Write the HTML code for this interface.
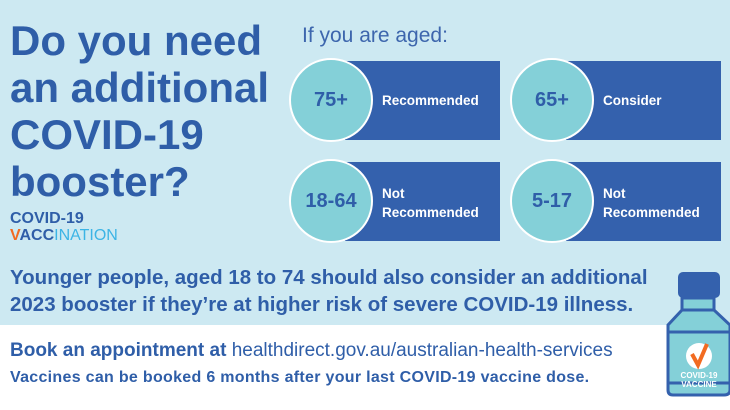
<!DOCTYPE html>
<html><head><style>
body{margin:0;width:730px;height:410px;overflow:hidden;font-family:"Liberation Sans",sans-serif;background:#fff;position:relative}
.top{position:absolute;left:0;top:0;width:730px;height:325px;background:#cde9f2}
.t{position:absolute;color:#2f5ea8;font-weight:bold;white-space:nowrap}
.box{position:absolute;background:#3461ad;width:155px;height:79px}
.c{position:absolute;width:80px;height:80px;border-radius:50%;background:#84d0d8;border:2px solid #fff;color:#2f5ea8;font-weight:bold;font-size:20px;display:flex;align-items:center;justify-content:center}
.bt{position:absolute;color:#fff;font-weight:bold;font-size:13.5px;line-height:19px}
</style></head><body>
<div class="top"></div>
<div class="t" style="left:10px;top:17px;font-size:42px;line-height:47px">Do you need<br>an additional<br>COVID-19<br>booster?</div>
<div class="t" style="left:10px;top:210px;font-size:16px;line-height:17px;color:#2f5ea8">COVID-19<br><span style="color:#f26b21">V</span>ACC<span style="color:#3cb4e5;font-weight:normal">INATION</span></div>
<div style="position:absolute;left:302px;top:24px;font-size:21px;color:#3d66ad">If you are aged:</div>

<div class="box" style="left:345px;top:61px"></div><div class="c" style="left:289px;top:58px">75+</div>
<div class="bt" style="left:382px;top:91px">Recommended</div>
<div class="box" style="left:566px;top:61px"></div><div class="c" style="left:510px;top:58px">65+</div>
<div class="bt" style="left:603px;top:91px">Consider</div>
<div class="box" style="left:345px;top:162px"></div><div class="c" style="left:289px;top:159px">18-64</div>
<div class="bt" style="left:382px;top:184px">Not<br>Recommended</div>
<div class="box" style="left:566px;top:162px"></div><div class="c" style="left:510px;top:159px">5-17</div>
<div class="bt" style="left:603px;top:184px">Not<br>Recommended</div>

<div class="t" style="left:10px;top:264px;font-size:20.5px;line-height:27px">Younger people, aged 18 to 74 should also consider an additional<br>2023 booster if they’re at higher risk of severe COVID-19 illness.</div>
<div class="t" style="left:10px;top:340px;font-size:19px">Book an appointment at <span style="font-weight:normal">healthdirect.gov.au/australian-health-services</span></div>
<div class="t" style="left:10px;top:369px;font-size:16px;letter-spacing:0.3px">Vaccines can be booked 6 months after your last COVID-19 vaccine dose.</div>

<svg style="position:absolute;left:660px;top:270px" width="70" height="130">
<rect x="18" y="2" width="42" height="26" rx="5" fill="#3461ad"/>
<rect x="22" y="28" width="32" height="12" fill="#84d0d8" stroke="#3461ad" stroke-width="3"/>
<path d="M22 40 L8 55 L8 120 Q8 125 13 125 L64 125 Q70 125 70 120 L70 55 L54 40 Z" fill="#84d0d8" stroke="#3461ad" stroke-width="3"/>
<line x1="8" y1="62" x2="70" y2="62" stroke="#3461ad" stroke-width="3"/>
<line x1="8" y1="113" x2="70" y2="113" stroke="#3461ad" stroke-width="3"/>
<circle cx="39" cy="86" r="13" fill="#fff"/>
<path d="M32 84 L38 95 L47 74" stroke="#f26b21" stroke-width="4" fill="none"/>
<text x="39" y="108" font-size="8" fill="#fff" font-weight="bold" text-anchor="middle" font-family="Liberation Sans">COVID-19</text>
<text x="39" y="117" font-size="8" fill="#fff" font-weight="bold" text-anchor="middle" font-family="Liberation Sans">VACCINE</text>
</svg>
</body></html>
